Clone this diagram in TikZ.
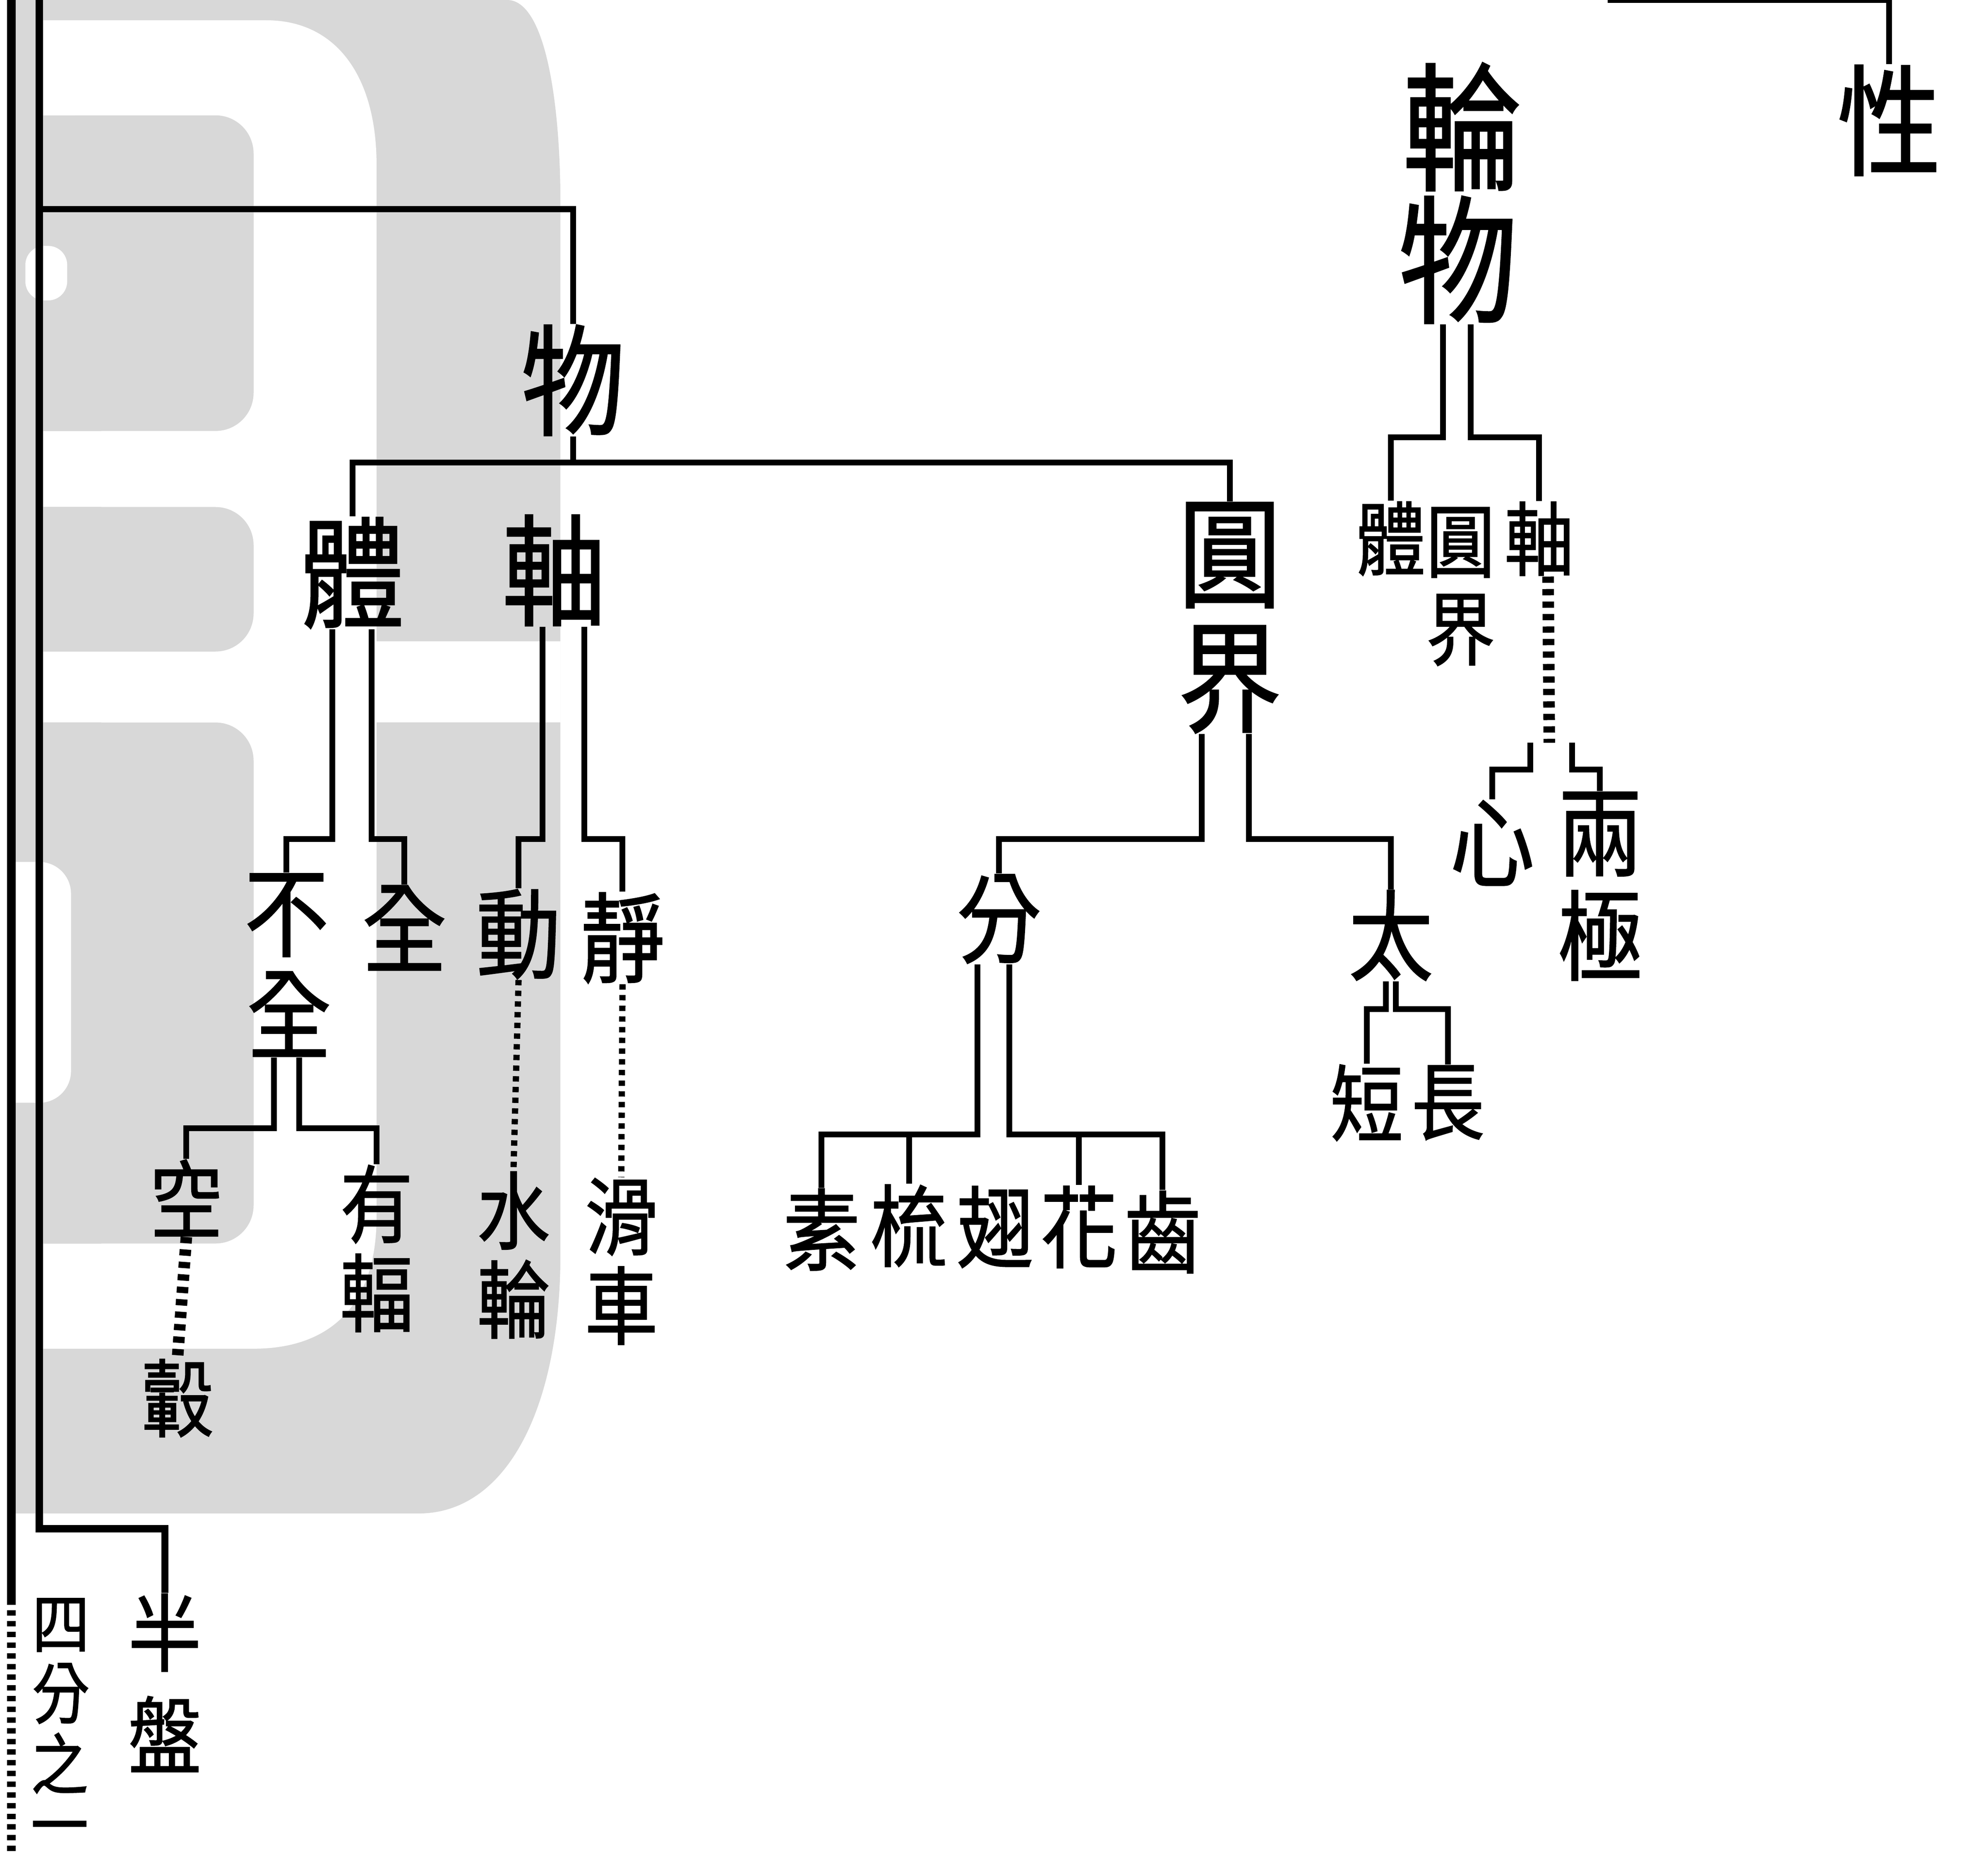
\documentclass[tikz,border=0pt]{standalone}
\usepackage{fontspec}
\usepackage{xcolor}
\newfontfamily\cjk{Noto Sans CJK TC}[FakeBold=1.2, FakeStretch=0.86]
\definecolor{wmgray}{RGB}{216,216,216}
\tikzset{
  zib/.style={inner sep=0pt, font=\cjk\fontsize{31}{31}\selectfont},
  zi/.style={inner sep=0pt, font=\cjk\fontsize{27}{27}\selectfont},
  zim/.style={inner sep=0pt, font=\cjk\fontsize{22}{22}\selectfont},
  zir/.style={inner sep=0pt, font=\cjk\fontsize{20}{20}\selectfont},
  zis/.style={inner sep=0pt, font=\cjk\fontsize{19}{19}\selectfont},
  zic/.style={inner sep=0pt, font=\cjk\fontsize{18}{18}\selectfont},
  zit/.style={inner sep=0pt, font=\cjk\fontsize{15}{15}\selectfont},
  xian/.style={line width=1.3pt},
  ladder/.style={line width=2.6pt, dash pattern=on 1.4pt off 1.4pt},
  dots/.style={line width=1.4pt, dash pattern=on 1.2pt off 1.2pt}
}
\begin{document}
\begin{tikzpicture}[x=0.01cm, y=-0.01cm]
\path[use as bounding box, fill=white] (0,0) rectangle (1568,1464);

% grey watermark behind the chart
\fill[wmgray] (6,0) -- (400,0) .. controls (430,0) and (442,80) .. (442,160)
  -- (442,990) .. controls (442,1110) and (400,1194) .. (330,1194) -- (6,1194) -- cycle;
\fill[white] (31,16) -- (210,16) .. controls (265,16) and (297,60) .. (297,130)
  -- (297,960) .. controls (297,1030) and (260,1064) .. (200,1064) -- (31,1064) -- cycle;
\fill[white] (297,506) rectangle (442,570);
\fill[wmgray, rounded corners=3mm] (31,91) -- (200,91) -- (200,340) -- (31,340) -- cycle;
\fill[wmgray, rounded corners=3mm] (31,400) -- (200,400) -- (200,514) -- (31,514) -- cycle;
\fill[wmgray, rounded corners=3mm] (31,570) -- (200,570) -- (200,981) -- (31,981) -- cycle;
\fill[wmgray] (31,91) rectangle (80,981);
\fill[white] (297,340) rectangle (200,400);
\fill[white] (297,514) rectangle (200,570);
\fill[white, rounded corners=1.5mm] (20,194) rectangle (53,237);
\fill[white, rounded corners=2.5mm] (-30,680) rectangle (56,870);
\fill[white] (31,340) rectangle (200,400);
\fill[white] (31,514) rectangle (200,570);

% page rules
\draw[line width=2pt] (9,0) -- (9,1262);
\draw[dots, line width=2pt] (9,1262) -- (9,1464);

% nodes, right column
\node[zi] (xing) at (1490,95) {性};
\node[zib] (lun) at (1153,100) {輪};
\node[zib] (wuB) at (1150,205) {物};
\node[zic] (tiR) at (1097,425) {體};
\node[zic] (yuanR) at (1152,428) {圓};
\node[zic] (jieR) at (1152,497) {界};
\node[zic] (zhouR) at (1214,425) {軸};
\node[zim] (xin) at (1177,665) {心};
\node[zim] (liang) at (1262,658) {兩};
\node[zim] (ji) at (1262,738) {極};

% nodes, main tree
\node[zi] (wu) at (452,300) {物};
\node[zi] (ti) at (278,452) {體};
\node[zi] (zhou) at (437,450) {軸};
\node[zi] (yuan) at (970,438) {圓};
\node[zi] (jie) at (970,536) {界};
\node[zim] (bu) at (226,722) {不};
\node[zim] (quan1) at (228,800) {全};
\node[zim] (quan) at (319,732) {全};
\node[zim] (dong) at (409,737) {動};
\node[zim] (jing) at (491,740) {靜};
\node[zim] (fen) at (788,725) {分};
\node[zim] (tai) at (1097,738) {太};
\node[zis] (duan) at (1078,870) {短};
\node[zis] (chang) at (1142,870) {長};
\node[zir] (su) at (648,970) {素};
\node[zir] (shu) at (717,967) {梳};
\node[zir] (chi) at (785,968) {翅};
\node[zir] (huaF) at (851,968) {花};
\node[zir] (chiT) at (917,972) {齒};
\node[zis] (kong) at (147,945) {空};
\node[zis] (gu) at (140,1103) {轂};
\node[zis] (you) at (297,950) {有};
\node[zis] (fu) at (297,1020) {輻};
\node[zis] (shui) at (405,955) {水};
\node[zis] (lunB) at (405,1025) {輪};
\node[zis] (hua) at (490,960) {滑};
\node[zis] (che) at (490,1030) {車};
\node[zis] (ban) at (130,1288) {半};
\node[zis] (pan) at (130,1368) {盤};
\node[zit] (si) at (48,1282) {四};
\node[zit] (fenS) at (48,1336) {分};
\node[zit] (zhi) at (47,1391) {之};
\node[zit] (yi) at (47,1448) {一};

% bar heights
\coordinate (topL) at (31,165);
\coordinate (botL) at (31,1206);
\coordinate (xingT) at (1490,0);
\coordinate (bar1) at (452,365);
\coordinate (bar2) at (0,662);
\coordinate (bar3) at (0,895);
\coordinate (bar4) at (0,796);
\coordinate (bar5) at (0,890);
\coordinate (bar6) at (0,345);
\coordinate (bar7) at (0,607);
\coordinate (splitR) at (1222,586);

% connectors
\draw[xian] (1268,0) -- (xingT) -- (xing.north);
\draw[line width=1.6pt] (31,0) -- (botL) -| (ban.north);
\draw[xian] (topL) -| (wu.north);
\draw[xian] (wu.south) -- (bar1);
\draw[xian] (ti.north) |- (bar1) -| (yuan.north);

\draw[xian] ([xshift=-1.6mm]ti.south) |- (bu.north |- bar2) -- (bu.north);
\draw[xian] ([xshift=1.5mm]ti.south) |- (quan.north |- bar2) -- (quan.north);
\draw[xian] ([xshift=-0.9mm]zhou.south) |- (dong.north |- bar2) -- (dong.north);
\draw[xian] ([xshift=2.4mm]zhou.south) |- (jing.north |- bar2) -- (jing.north);
\draw[xian] ([xshift=-2.2mm]jie.south) |- (fen.north |- bar2) -- (fen.north);
\draw[xian] ([xshift=1.5mm]jie.south) |- (tai.north |- bar2) -- (tai.north);

\draw[xian] ([xshift=-1.7mm]fen.south) |- (su.north |- bar3) -- (su.north);
\draw[xian] (shu.north |- bar3) -- (shu.north);
\draw[xian] ([xshift=0.8mm]fen.south) |- (chiT.north |- bar3) -- (chiT.north);
\draw[xian] (huaF.north |- bar3) -- (huaF.north);

\draw[xian] ([xshift=-0.4mm]tai.south) |- (duan.north |- bar4) -- (duan.north);
\draw[xian] ([xshift=0.4mm]tai.south) |- (chang.north |- bar4) -- (chang.north);

\draw[xian] ([xshift=-1.2mm]quan1.south) |- (kong.north |- bar5) -- (kong.north);
\draw[xian] ([xshift=0.8mm]quan1.south) |- (you.north |- bar5) -- (you.north);

\draw[ladder] (kong.south) -- (gu.north);
\draw[dots] (dong.south) -- (shui.north);
\draw[dots] (jing.south) -- (hua.north);

\draw[xian] ([xshift=-1.2mm]wuB.south) |- (tiR.north |- bar6) -- (tiR.north);
\draw[xian] ([xshift=1mm]wuB.south) |- (zhouR.north |- bar6) -- (zhouR.north);
\draw[ladder] ([xshift=0.7mm]zhouR.south) -- (splitR);
\draw[xian] ([xshift=-1.5mm]splitR) |- (xin.north |- bar7) -- (xin.north);
\draw[xian] ([xshift=1.8mm]splitR) |- (liang.north |- bar7) -- (liang.north);
\end{tikzpicture}
\end{document}
